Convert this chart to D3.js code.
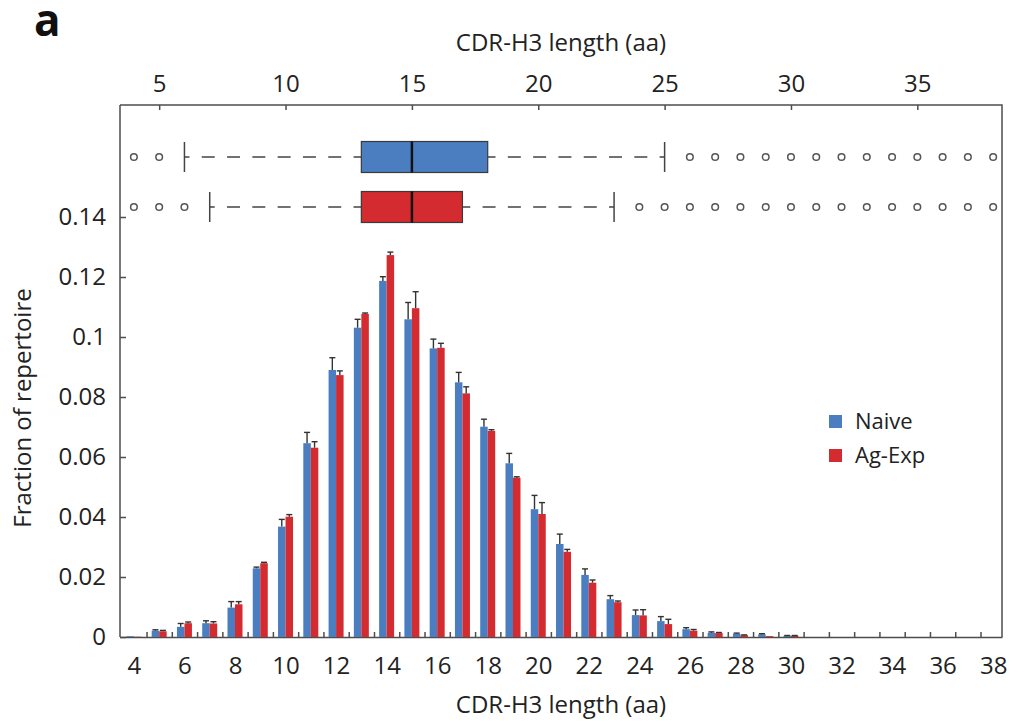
<!DOCTYPE html>
<html>
<head>
<meta charset="utf-8">
<script src="https://cdn.jsdelivr.net/npm/d3@7"></script>
<style>
  body { margin: 0; background: #fff; }
  svg { display: block; font-family: "Open Sans", sans-serif; }
  .axis text { fill: #222; font-size: 24px; font-family: "Open Sans", sans-serif; }
  .axis path, .axis line { stroke: #4d4d4d; stroke-width: 1.5; }
</style>
</head>
<body>
<svg id="chart" width="1013" height="723"></svg>
<script>
// CDR-H3 lengths (aa) and mean fraction of repertoire per group
let lengths = [4, 5, 6, 7, 8, 9, 10, 11, 12, 13, 14, 15, 16, 17, 18, 19, 20, 21,
  22, 23, 24, 25, 26, 27, 28, 29, 30, 31, 32, 33, 34, 35, 36, 37, 38]
let naive = [0.0003, 0.0021, 0.0034, 0.0046, 0.0098, 0.0229, 0.0368, 0.0646, 0.0890,
  0.1031, 0.1187, 0.1059, 0.0962, 0.0849, 0.0701, 0.0579, 0.0426, 0.0310, 0.0207,
  0.0126, 0.0073, 0.0053, 0.0026, 0.0014, 0.0011, 0.0009, 0.0004, 0, 0, 0, 0, 0, 0, 0, 0]
let agExp = [0.0001, 0.0019, 0.0046, 0.0045, 0.0109, 0.0246, 0.0401, 0.0631, 0.0873,
  0.1077, 0.1273, 0.1096, 0.0964, 0.0812, 0.0687, 0.0531, 0.0410, 0.0284, 0.0181,
  0.0116, 0.0072, 0.0043, 0.0021, 0.0013, 0.0006, 0.0003, 0.0004, 0, 0, 0, 0, 0, 0, 0, 0]
// upper error (s.d.) for each bar
let naiveErr = [0, 0.0003, 0.0011, 0.0008, 0.0020, 0.0004, 0.0024, 0.0036, 0.0041,
  0.0028, 0.0014, 0.0056, 0.0031, 0.0033, 0.0025, 0.0033, 0.0046, 0.0033, 0.0020,
  0.0012, 0.0017, 0.0015, 0.0005, 0.0003, 0.0002, 0.0002, 0.0001, 0, 0, 0, 0, 0, 0, 0, 0]
let agExpErr = [0, 0.0003, 0.0004, 0.0006, 0.0009, 0.0003, 0.0007, 0.0020, 0.0014,
  0.0003, 0.0010, 0.0055, 0.0015, 0.0022, 0.0004, 0.0003, 0.0038, 0.0008, 0.0009,
  0.0004, 0.0019, 0.0016, 0.0004, 0.0002, 0.0001, 0, 0.0001, 0, 0, 0, 0, 0, 0, 0, 0]

// box plot summaries: [lower whisker, Q1, median, Q3, upper whisker]
let naiveBox = [6, 13, 15, 18, 25]
let agExpBox = [7, 13, 15, 17, 23]
let naiveOutliers = [4, 5, 26, 27, 28, 29, 30, 31, 32, 33, 34, 35, 36, 37, 38]
let agExpOutliers = [4, 5, 6, 24, 25, 26, 27, 28, 29, 30, 31, 32, 33, 34, 35, 36, 37, 38]

let yTicks = [0, 0.02, 0.04, 0.06, 0.08, 0.1, 0.12, 0.14]
let bottomTicks = [4, 6, 8, 10, 12, 14, 16, 18, 20, 22, 24, 26, 28, 30, 32, 34, 36, 38]
let topTicks = [5, 10, 15, 20, 25, 30, 35]
let seriesNames = ["Naive", "Ag-Exp"]

let blue = "#4a7ec1"
let red = "#d42b30"

let svg = d3.select("#chart")
let plotLeft = 120, plotRight = 1002, plotTop = 105, plotBase = 637

let x = d3.scaleLinear().domain([3.45, 38.35]).range([plotLeft, plotRight])
let y = d3.scaleLinear().domain([0, 0.14]).range([plotBase, 217])

// frame
svg.append("path")
  .attr("d", `M${plotLeft},${plotTop}H${plotRight}V${plotBase}`)
  .attr("fill", "none").attr("stroke", "#4d4d4d").attr("stroke-width", 1.5)

// left axis
let yAxis = svg.append("g").attr("class", "axis")
  .attr("transform", `translate(${plotLeft},0)`)
  .call(d3.axisLeft(y).tickValues(yTicks).tickFormat(d3.format("~g"))
    .tickSizeInner(-6).tickSizeOuter(0).tickPadding(14))
yAxis.select(".domain").remove()
svg.append("line").attr("x1", plotLeft).attr("x2", plotLeft).attr("y1", plotTop).attr("y2", plotBase)
  .attr("stroke", "#4d4d4d").attr("stroke-width", 1.5)

// bottom axis: ticks between bars, labels on even lengths
let halfTicks = lengths.map(d => d + 0.5).filter(d => d < 38.3)
svg.append("g").attr("class", "axis")
  .attr("transform", `translate(0,${plotBase})`)
  .call(d3.axisBottom(x).tickValues(halfTicks).tickFormat("").tickSizeInner(-5).tickSizeOuter(0))
svg.append("g").attr("class", "axis")
  .attr("transform", `translate(0,${plotBase})`)
  .call(d3.axisBottom(x).tickValues(bottomTicks).tickSize(0).tickPadding(20))
  .select(".domain").remove()

// top axis
svg.append("g").attr("class", "axis")
  .attr("transform", `translate(0,${plotTop})`)
  .call(d3.axisTop(x).tickValues(topTicks).tickSizeInner(-5).tickSizeOuter(0).tickPadding(13))
  .select(".domain").remove()

// titles
svg.append("text").attr("x", 561).attr("y", 713).attr("text-anchor", "middle")
  .attr("font-size", 24).attr("fill", "#222").text("CDR-H3 length (aa)")
svg.append("text").attr("x", 561).attr("y", 51).attr("text-anchor", "middle")
  .attr("font-size", 24).attr("fill", "#222").text("CDR-H3 length (aa)")
svg.append("text").attr("transform", "translate(31,408) rotate(-90)").attr("text-anchor", "middle")
  .attr("font-size", 24).attr("fill", "#222").text("Fraction of repertoire")
svg.append("text").attr("x", 34).attr("y", 36)
  .attr("font-size", 44).attr("font-weight", 700).attr("fill", "#111").text("a")

// bars
let bw = 7.5
let rows = lengths.map((len, i) => ({ len, naive: naive[i], ag: agExp[i], nErr: naiveErr[i], aErr: agExpErr[i] }))
let bars = svg.append("g")
bars.selectAll(".naive").data(rows).enter().append("rect")
  .attr("x", d => x(d.len) - bw).attr("width", bw)
  .attr("y", d => y(d.naive)).attr("height", d => plotBase - y(d.naive))
  .attr("fill", blue)
bars.selectAll(".ag").data(rows).enter().append("rect")
  .attr("x", d => x(d.len)).attr("width", bw)
  .attr("y", d => y(d.ag)).attr("height", d => plotBase - y(d.ag))
  .attr("fill", red)

// error bars (upper only)
function errorBars(data, cx, val, err) {
  let g = svg.append("g").attr("stroke", "#333").attr("stroke-width", 1.4)
  data.filter(d => err(d) > 0).forEach(d => {
    let xc = cx(d), y0 = y(val(d)), y1 = y(val(d) + err(d))
    g.append("line").attr("x1", xc).attr("x2", xc).attr("y1", y0).attr("y2", y1)
    g.append("line").attr("x1", xc - 3).attr("x2", xc + 3).attr("y1", y1).attr("y2", y1)
  })
}
errorBars(rows, d => x(d.len) - bw / 2, d => d.naive, d => d.nErr)
errorBars(rows, d => x(d.len) + bw / 2, d => d.ag, d => d.aErr)

// box plots
function boxPlot(stats, outliers, cy, color) {
  let [lo, q1, med, q3, hi] = stats
  let h = 31, g = svg.append("g")
  g.append("line").attr("x1", x(lo)).attr("x2", x(q1)).attr("y1", cy).attr("y2", cy)
    .attr("stroke", "#444").attr("stroke-width", 1.4)
    .attr("stroke-dasharray", "13,12.3").attr("stroke-dashoffset", 8)
  g.append("line").attr("x1", x(hi)).attr("x2", x(q3)).attr("y1", cy).attr("y2", cy)
    .attr("stroke", "#444").attr("stroke-width", 1.4)
    .attr("stroke-dasharray", "13,12.3").attr("stroke-dashoffset", 8)
  ;[lo, hi].forEach(v => {
    g.append("line").attr("x1", x(v)).attr("x2", x(v)).attr("y1", cy - 15).attr("y2", cy + 15)
      .attr("stroke", "#444").attr("stroke-width", 1.5)
  })
  g.append("rect").attr("x", x(q1)).attr("y", cy - h / 2)
    .attr("width", x(q3) - x(q1)).attr("height", h)
    .attr("fill", color).attr("stroke", "#3a3a3a").attr("stroke-width", 1.2)
  g.append("line").attr("x1", x(med)).attr("x2", x(med)).attr("y1", cy - h / 2).attr("y2", cy + h / 2)
    .attr("stroke", "#111").attr("stroke-width", 2.5)
  g.selectAll("circle").data(outliers).enter().append("circle")
    .attr("cx", d => x(d)).attr("cy", cy).attr("r", 3.3)
    .attr("fill", "#fff").attr("stroke", "#555").attr("stroke-width", 1.5)
}
boxPlot(naiveBox, naiveOutliers, 157, blue)
boxPlot(agExpBox, agExpOutliers, 207, red)

// legend
let legend = svg.append("g").attr("transform", "translate(829,415)")
seriesNames.forEach((name, i) => {
  legend.append("rect").attr("x", 0).attr("y", i * 34).attr("width", 13).attr("height", 13)
    .attr("fill", i === 0 ? blue : red)
  legend.append("text").attr("x", 26).attr("y", i * 34 + 14)
    .attr("font-size", 22).attr("fill", "#222").text(name)
})
</script>
</body>
</html>
